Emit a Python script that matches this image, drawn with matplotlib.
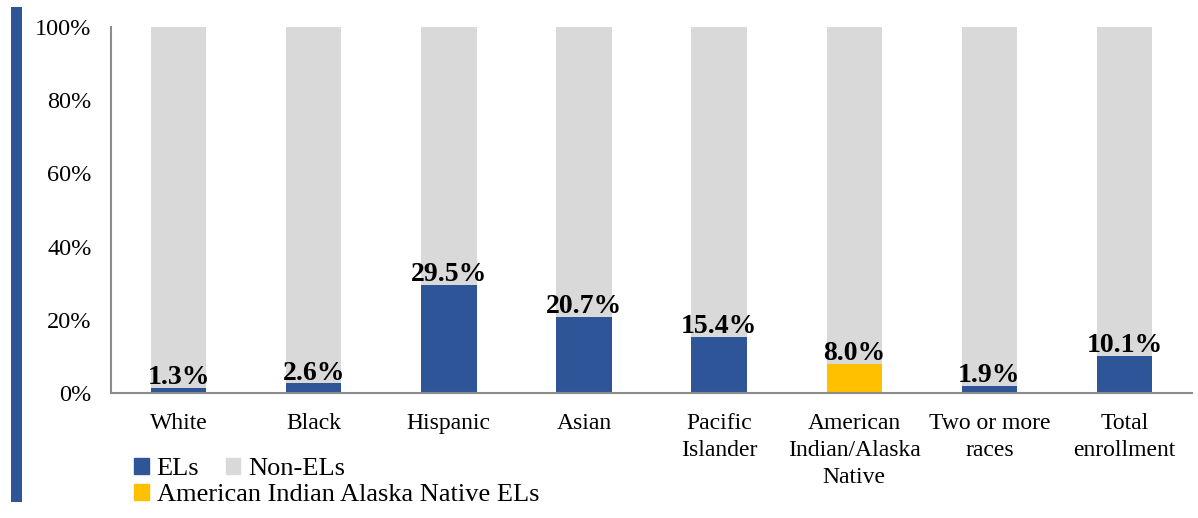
"""
English learner share of enrollment by race/ethnicity, stacked to 100%.
"""

import matplotlib.pyplot as plt
from matplotlib.patches import Patch, Rectangle

categories = ["White", "Black", "Hispanic", "Asian", "Pacific\nIslander",
              "American\nIndian/Alaska\nNative", "Two or more\nraces", "Total\nenrollment"]
el_share = [1.3, 2.6, 29.5, 20.7, 15.4, 8.0, 1.9, 10.1]
el_labels = ["1.3%", "2.6%", "29.5%", "20.7%", "15.4%", "8.0%", "1.9%", "10.1%"]
y_ticks = [0, 20, 40, 60, 80, 100]
y_tick_labels = ["0%", "20%", "40%", "60%", "80%", "100%"]

BLUE = "#2E5597"
GRAY = "#D9D9D9"
GOLD = "#FFC000"
AIAN_INDEX = 5

plt.rcParams["font.family"] = ["Liberation Serif", "DejaVu Serif"]

fig = plt.figure(figsize=(11.98, 5.18), dpi=100)
ax = fig.add_axes([0.0927, 0.2413, 0.9023, 0.7066])

x = list(range(len(categories)))
non_el = [100 - v for v in el_share]
el_colors = [GOLD if i == AIAN_INDEX else BLUE for i in x]

bars = ax.bar(x, el_share, width=0.41, color=el_colors, zorder=2)
ax.bar(x, non_el, bottom=el_share, width=0.41, color=GRAY, zorder=1)

# Bold value labels sitting on top of the EL segment.
for rect, label in zip(bars, el_labels):
    ax.annotate(label, (rect.get_x() + rect.get_width() / 2, rect.get_height()),
                xytext=(0, -1.5), textcoords="offset points", ha="center", va="bottom",
                fontsize=20, fontweight="bold", zorder=3)

ax.set_xlim(-0.5, len(categories) - 0.5)
ax.set_ylim(0, 100)
ax.set_yticks(y_ticks)
ax.set_yticklabels(y_tick_labels)
ax.set_xticks(x)
ax.set_xticklabels(categories, linespacing=1.38)
ax.tick_params(axis="y", length=0, pad=14, labelsize=17.5)
ax.tick_params(axis="x", length=0, pad=14.5, labelsize=17)

for side in ("top", "right"):
    ax.spines[side].set_visible(False)
for side in ("left", "bottom"):
    ax.spines[side].set_color("#8C8C8C")
    ax.spines[side].set_linewidth(1.5)

# Decorative blue strip on the far left edge.
fig.patches.append(Rectangle((0.0092, 0.031), 0.0092, 0.9556, transform=fig.transFigure,
                             facecolor=BLUE, edgecolor="none"))

legend_kw = dict(frameon=False, fontsize=19, handlelength=0.55, handleheight=0.55,
                 handletextpad=0.3, borderpad=0, borderaxespad=0)
fig.legend(handles=[Patch(color=BLUE, label="ELs"), Patch(color=GRAY, label="Non-ELs")],
           ncol=2, columnspacing=1.0, loc="center left", bbox_to_anchor=(0.112, 0.094),
           **legend_kw)
fig.legend(handles=[Patch(color=GOLD, label="American Indian Alaska Native ELs")],
           loc="center left", bbox_to_anchor=(0.112, 0.044), **legend_kw)

fig.savefig("out.png", dpi=100)
